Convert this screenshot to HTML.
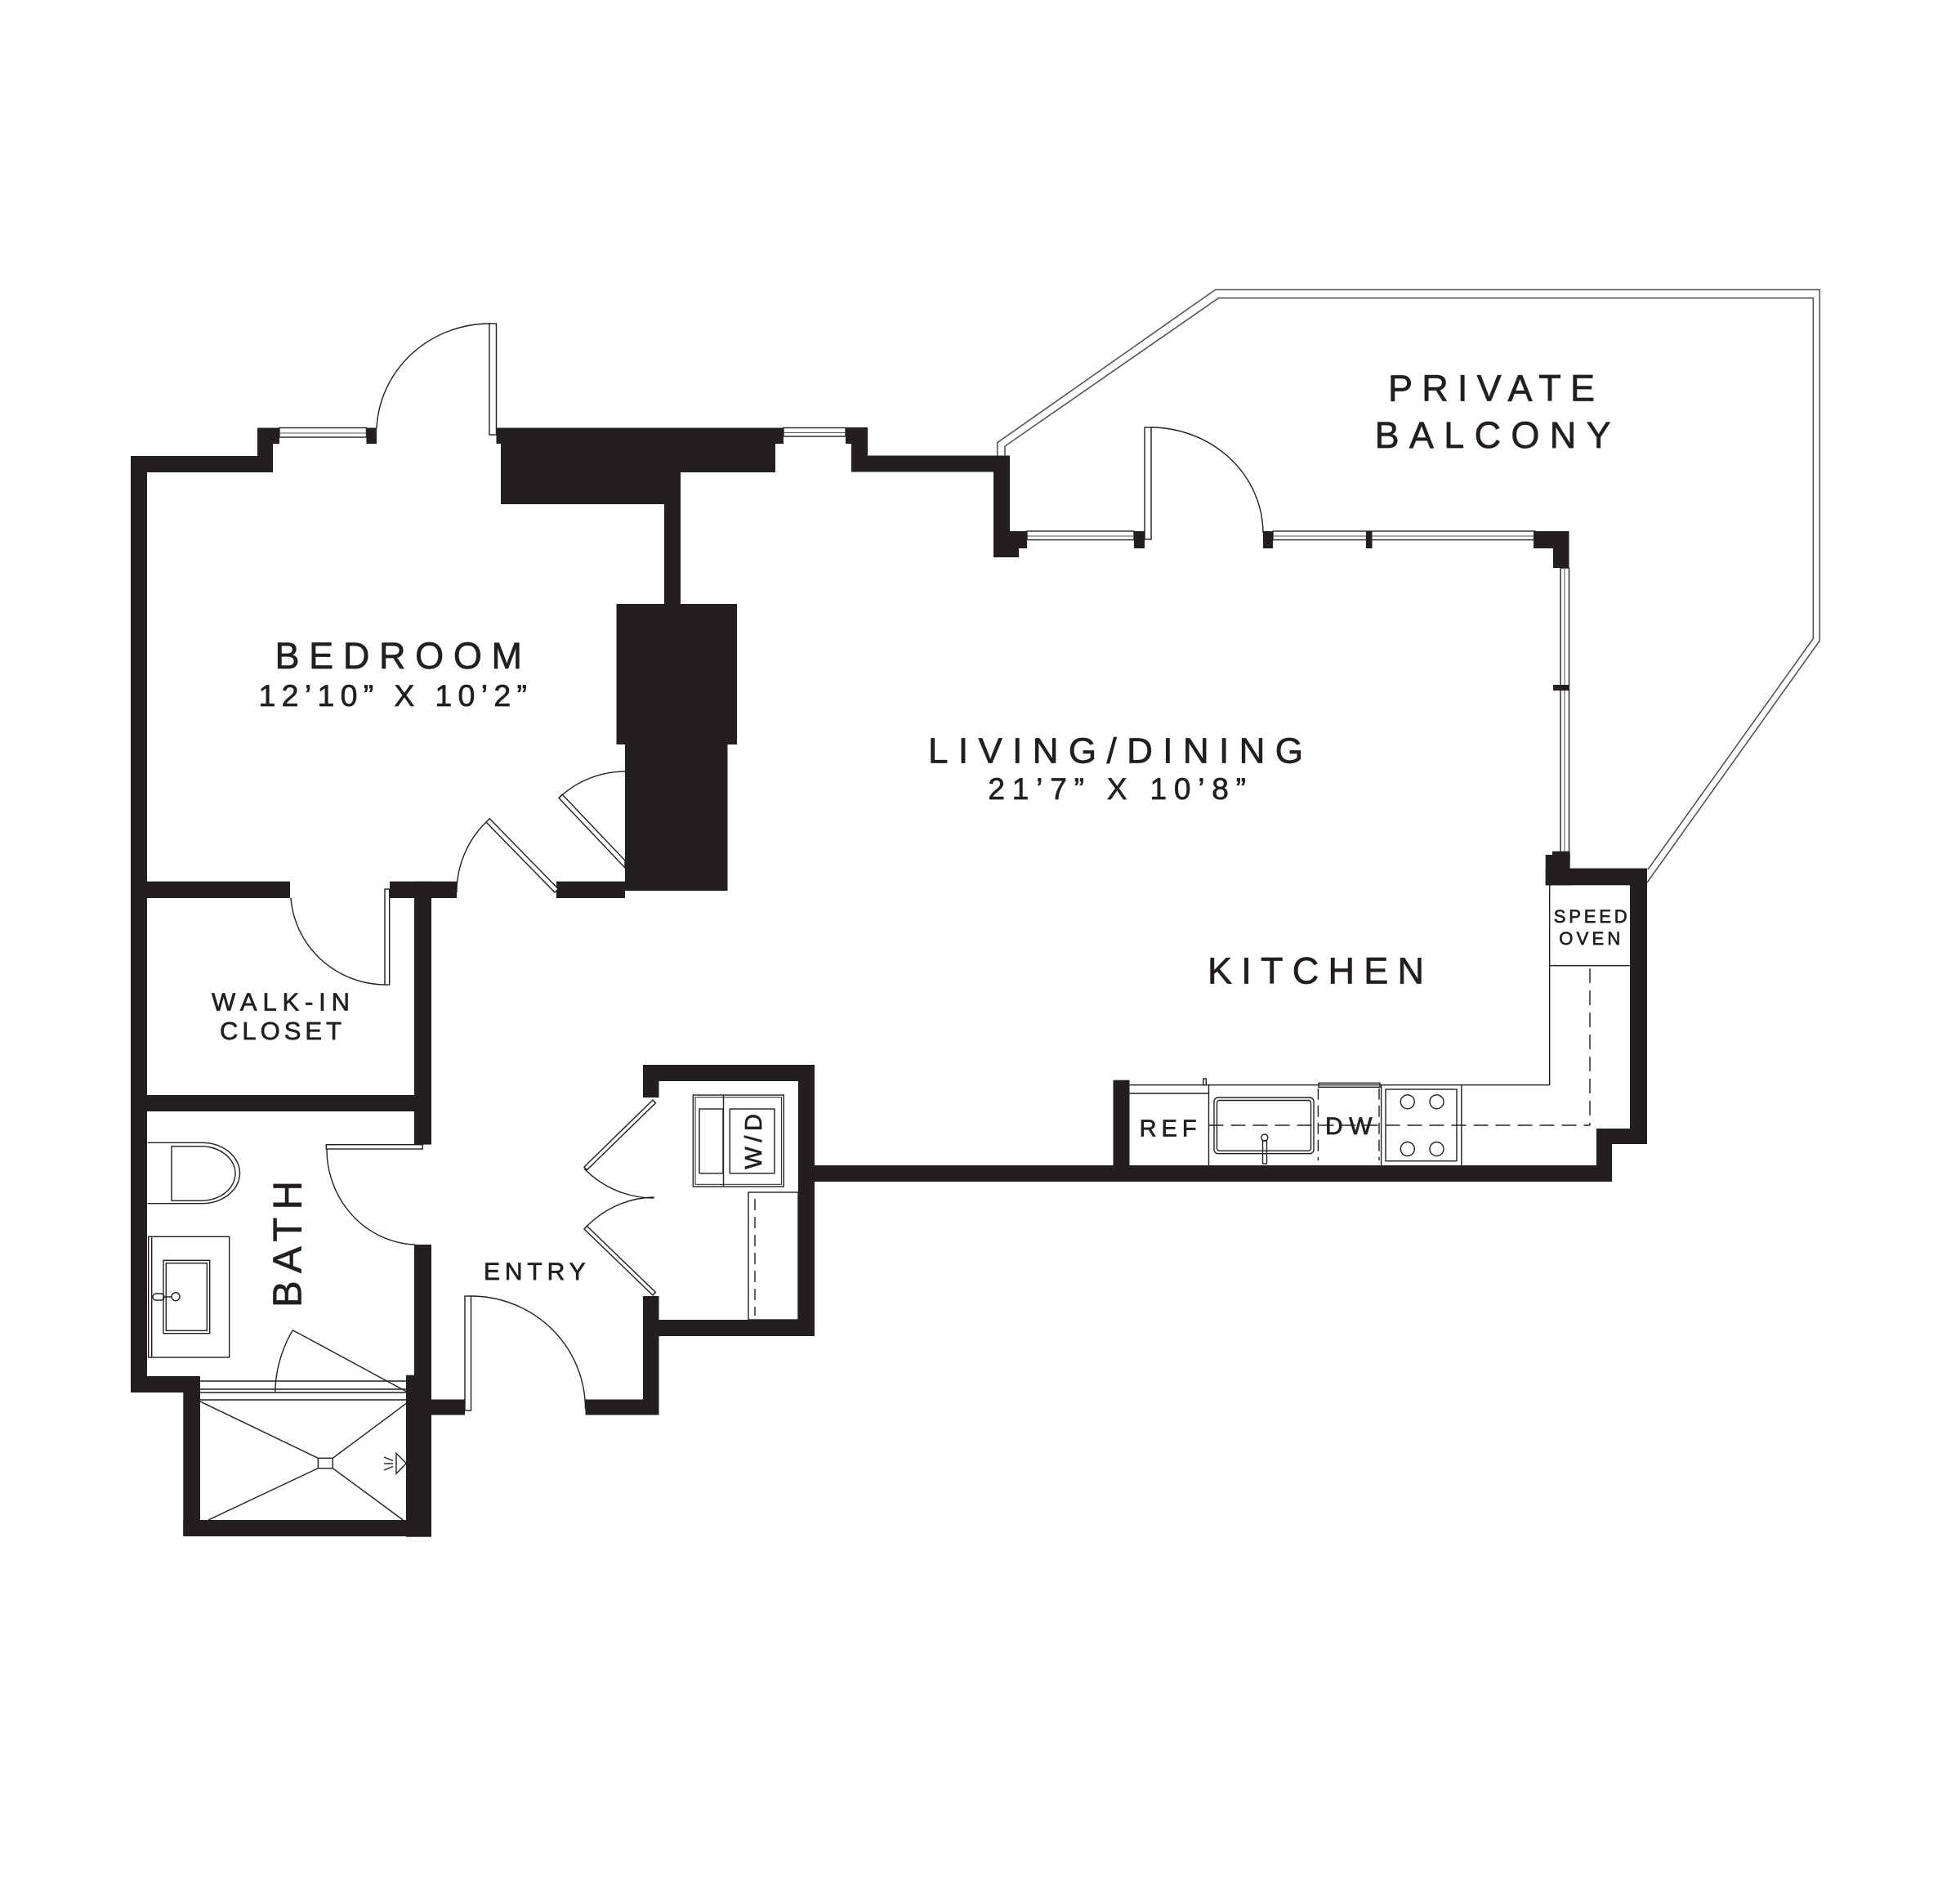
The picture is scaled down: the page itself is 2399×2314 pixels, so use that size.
<!DOCTYPE html>
<html>
<head>
<meta charset="utf-8">
<style>
  html,body{margin:0;padding:0;background:#fff;}
  svg{display:block;}
  text{font-family:"Liberation Sans", Arial, sans-serif; fill:#231f20; stroke:#231f20; stroke-width:0.7;}
</style>
</head>
<body>
<svg xmlns="http://www.w3.org/2000/svg" width="2399" height="2314" viewBox="0 0 2399 2314">
<rect x="0" y="0" width="2399" height="2314" fill="#fff"/>

<!-- Balcony railing (double line) -->
<g fill="none" stroke="#555" stroke-width="1.6">
  <path d="M1220.7,557.5 L1220.7,541.7 L1487.5,354.5 L2227.3,354.5 L2227.3,784 L2016,1080"/>
  <path d="M1230,557.5 L1230,546 L1491.5,364.7 L2219.3,364.7 L2219.3,781.5 L2017,1064"/>
</g>

<!-- Windows -->
<g fill="#fff" stroke="#333" stroke-width="1.5">
  <rect x="342" y="523.5" width="106.5" height="11.5"/>
  <rect x="959" y="523.5" width="76" height="10.5"/>
  <rect x="1257" y="650" width="131" height="10.6"/>
  <rect x="1558" y="650" width="321" height="10.6"/>
  <rect x="1910" y="695" width="10.5" height="349"/>
</g>
<g stroke="#555" stroke-width="1">
  <line x1="342" y1="530" x2="448.5" y2="530"/>
  <line x1="959" y1="529.5" x2="1035" y2="529.5"/>
  <line x1="1257" y1="656" x2="1388" y2="656"/>
  <line x1="1558" y1="656" x2="1879" y2="656"/>
  <line x1="1915" y1="695" x2="1915" y2="1044"/>
</g>

<!-- Walls -->
<g fill="#231f20">
  <rect x="160" y="558" width="20" height="1146"/>
  <rect x="160" y="558" width="174" height="20"/>
  <rect x="315" y="523.5" width="19" height="54.5"/>
  <rect x="315" y="523.5" width="27" height="19.5"/>
  <rect x="448.5" y="523.5" width="12.5" height="19.5"/>
  <polygon points="607.5,523.5 959,523.5 959,543 949,543 949,578 833,578 833,739 902,739 902,911 890.5,911 890.5,1090 765,1090 765,911 754.5,911 754.5,739 813,739 813,617 613,617 613,543 607.5,543"/>
  <rect x="1035" y="523" width="27" height="20"/>
  <rect x="1042" y="540" width="20" height="20"/>
  <rect x="1042" y="557.5" width="194" height="20"/>
  <rect x="1216" y="557.5" width="20" height="124"/>
  <rect x="1216" y="670" width="31" height="12"/>
  <rect x="1236" y="650" width="21" height="21"/>
  <rect x="1388" y="650" width="13" height="21"/>
  <rect x="1546" y="650" width="12" height="21"/>
  <rect x="1672" y="650" width="7.5" height="21"/>
  <rect x="1877" y="650" width="43.5" height="21"/>
  <rect x="1901" y="650" width="19.5" height="45"/>
  <rect x="1901" y="838" width="19.5" height="7"/>
  <rect x="1900" y="1041.7" width="21.7" height="10"/>
  <rect x="1891.7" y="1046" width="30" height="37.3"/>
  <rect x="1891.7" y="1062.5" width="124.3" height="20.8"/>
  <rect x="1995" y="1062.5" width="21" height="337.5"/>
  <rect x="1954" y="1381" width="62" height="19"/>
  <rect x="1954" y="1381" width="19" height="65"/>
  <rect x="997" y="1426" width="976" height="20"/>
  <rect x="1362.5" y="1321.7" width="20" height="105"/>
  <!-- laundry -->
  <rect x="787" y="1303" width="210" height="20"/>
  <rect x="787" y="1303" width="19.5" height="40"/>
  <rect x="977" y="1303" width="20" height="332"/>
  <rect x="787" y="1615" width="210" height="20"/>
  <rect x="787" y="1586" width="19.5" height="145.5"/>
  <rect x="716.5" y="1712.5" width="90" height="19"/>
  <rect x="528" y="1712.5" width="41" height="19"/>
  <!-- center -->
  <rect x="160" y="1078.6" width="195" height="20.4"/>
  <rect x="477" y="1078.6" width="82" height="20.4"/>
  <rect x="681" y="1078.6" width="84" height="20.4"/>
  <rect x="507" y="1078.6" width="21" height="322"/>
  <rect x="507" y="1523" width="21" height="160"/>
  <rect x="497" y="1682.7" width="31" height="198"/>
  <rect x="160" y="1340" width="368" height="20"/>
  <rect x="160" y="1684" width="85" height="20"/>
  <rect x="224.3" y="1684" width="20.7" height="196"/>
  <rect x="224.3" y="1860" width="303" height="20"/>
</g>

<!-- Door leaves -->
<g fill="#fff" stroke="#231f20" stroke-width="1.4">
  <rect x="599" y="396" width="8.5" height="136"/>
  <rect x="1401" y="523" width="8" height="137"/>
  <polygon points="679,1092 595,1006 599.3,1001.8 683.3,1087.8"/>
  <polygon points="765,1062 684,976.5 688.3,972.3 765,1053"/>
  <rect x="471" y="1088" width="5.7" height="117"/>
  <rect x="399.3" y="1400.7" width="118" height="5.3"/>
  <rect x="569" y="1586" width="7.5" height="140"/>
  <polygon points="799,1346 715,1428 718.5,1431.6 802.5,1349.6"/>
  <polygon points="799,1585 715,1504 718.5,1500.4 802.5,1581.4"/>
</g>

<!-- Door swings -->
<g fill="none" stroke="#231f20" stroke-width="1.4">
  <path d="M461,524 A139,134 0 0 1 600,396"/>
  <path d="M1409,523 A138,130 0 0 1 1546,652"/>
  <path d="M595,1006 A120,120 0 0 0 559,1092"/>
  <path d="M684,976.5 A118,118 0 0 1 765,944"/>
  <path d="M356,1099 A117,115 0 0 0 471,1205"/>
  <path d="M400,1406 A112,117 0 0 0 508,1523"/>
  <path d="M576.5,1586 A140,138 0 0 1 716.5,1724"/>
  <path d="M715,1430 A119,119 0 0 0 800.5,1466"/>
  <path d="M715,1504 A119,119 0 0 1 800.5,1465"/>
  <path d="M358.3,1627.7 A158,158 0 0 0 336.7,1704"/>
  <line x1="358.3" y1="1627.7" x2="497.3" y2="1702.7"/>
</g>

<!-- Bath fixtures -->
<g fill="none" stroke="#231f20" stroke-width="1.4">
  <path d="M180.7,1398.3 L247,1398.3 A46.6,37.2 0 0 1 247,1472.7 L180.7,1472.7"/>
  <path d="M210,1402.7 L246,1402.7 A42,33.3 0 0 1 246,1469.3 L210,1469.3 Z"/>
  <rect x="181.7" y="1513.3" width="99" height="147.7"/>
  <line x1="185.7" y1="1513.3" x2="185.7" y2="1661"/>
  <rect x="200" y="1542.3" width="56.7" height="89.4"/>
  <rect x="203.3" y="1545.7" width="50" height="82.6"/>
  <circle cx="215" cy="1586.7" r="5"/>
  <rect x="187" y="1583" width="14" height="8" rx="4"/>
  <line x1="201" y1="1587" x2="210" y2="1587"/>
  <line x1="245" y1="1690" x2="497.3" y2="1690"/>
  <line x1="245" y1="1700" x2="497.3" y2="1700"/>
  <line x1="245" y1="1704" x2="497.3" y2="1704"/>
  <line x1="245" y1="1713" x2="497.3" y2="1713"/>
  <line x1="245" y1="1715" x2="389.3" y2="1784.3"/>
  <line x1="497.3" y1="1717.3" x2="407.3" y2="1784.3"/>
  <line x1="255" y1="1860" x2="389.3" y2="1796.7"/>
  <line x1="493.3" y1="1860" x2="407.3" y2="1796.7"/>
  <rect x="389.3" y="1784.3" width="18" height="12.4"/>
  <polygon points="485,1778.3 485,1803.3 497.3,1790.7"/>
  <line x1="470" y1="1783" x2="481" y2="1787.5"/>
  <line x1="470" y1="1791" x2="481" y2="1791"/>
  <line x1="470" y1="1799" x2="481" y2="1794.5"/>
</g>

<!-- Laundry fixtures -->
<g fill="none" stroke="#231f20" stroke-width="1.4">
  <rect x="848.3" y="1340" width="111" height="112"/>
  <rect x="851" y="1342.7" width="105.6" height="106.6" stroke-width="1"/>
  <line x1="885.5" y1="1340" x2="885.5" y2="1452"/>
  <rect x="856" y="1357" width="29" height="78.7"/>
  <rect x="893.3" y="1357" width="54.7" height="78.7"/>
  <rect x="916" y="1459" width="61" height="156"/>
  <line x1="924" y1="1467" x2="924" y2="1610" stroke-dasharray="14,8"/>
</g>

<!-- Kitchen fixtures -->
<g fill="none" stroke="#231f20" stroke-width="1.4">
  <line x1="1896.7" y1="1083" x2="1896.7" y2="1327.7"/>
  <line x1="1382.6" y1="1327.7" x2="1897" y2="1327.7"/>
  <line x1="1896.7" y1="1181.7" x2="1995" y2="1181.7"/>
  <line x1="1946" y1="1185" x2="1946" y2="1377" stroke-dasharray="18,9"/>
  <line x1="1479.5" y1="1377" x2="1946" y2="1377" stroke-dasharray="18,9"/>
  <line x1="1382.6" y1="1338" x2="1479.5" y2="1338"/>
  <line x1="1479.5" y1="1327.7" x2="1479.5" y2="1426"/>
  <rect x="1472.8" y="1320" width="3.5" height="7.7"/>
  <rect x="1486" y="1343" width="122" height="68.7" rx="5"/>
  <rect x="1489.5" y="1346.5" width="115" height="61.7" rx="3"/>
  <circle cx="1547.8" cy="1392" r="4"/>
  <rect x="1545.5" y="1396" width="5" height="28"/>
  <line x1="1613.4" y1="1331.7" x2="1613.4" y2="1420" stroke-dasharray="14,7"/>
  <line x1="1688" y1="1331.7" x2="1688" y2="1420" stroke-dasharray="14,7"/>
  <rect x="1614" y="1325.3" width="75" height="5"/>
  <line x1="1690.6" y1="1327.7" x2="1690.6" y2="1426"/>
  <rect x="1696" y="1333" width="87" height="87.7"/>
  <circle cx="1722.8" cy="1348.3" r="8.5"/>
  <circle cx="1758.5" cy="1348.3" r="8.5"/>
  <circle cx="1722.8" cy="1406" r="8.5"/>
  <circle cx="1758.5" cy="1406" r="8.5"/>
  <line x1="1788.8" y1="1327.7" x2="1788.8" y2="1426"/>
</g>

<!-- Labels -->
<text x="1699" y="490.7" font-size="45" textLength="253" lengthAdjust="spacing">PRIVATE</text>
<text x="1682.6" y="548" font-size="45" textLength="289" lengthAdjust="spacing">BALCONY</text>
<text x="336.5" y="818" font-size="45" textLength="302.5" lengthAdjust="spacing">BEDROOM</text>
<text x="316.5" y="864" font-size="37.5" textLength="328.5" lengthAdjust="spacing">12’10” X 10’2”</text>
<text x="1136" y="933.6" font-size="44" textLength="459" lengthAdjust="spacing">LIVING/DINING</text>
<text x="1209.4" y="978" font-size="37" textLength="315.6" lengthAdjust="spacing">21’7” X 10’8”</text>
<text x="1478" y="1203.3" font-size="45" textLength="265" lengthAdjust="spacing">KITCHEN</text>
<text x="259" y="1236.6" font-size="31" textLength="169" lengthAdjust="spacing">WALK-IN</text>
<text x="269" y="1272" font-size="31" textLength="149" lengthAdjust="spacing">CLOSET</text>
<text transform="translate(368.3,1600) rotate(-90)" font-size="49" textLength="155" lengthAdjust="spacing">BATH</text>
<text x="592" y="1566" font-size="30" textLength="124.6" lengthAdjust="spacing">ENTRY</text>
<text x="1394.6" y="1390.7" font-size="29" textLength="70" lengthAdjust="spacing">REF</text>
<text x="1622" y="1388" font-size="30" textLength="57.5" lengthAdjust="spacing">DW</text>
<text x="1901.7" y="1129" font-size="22" textLength="90" lengthAdjust="spacing">SPEED</text>
<text x="1908.3" y="1156" font-size="22" textLength="75" lengthAdjust="spacing">OVEN</text>
<text transform="translate(932,1430.6) rotate(-90)" font-size="29" textLength="67.6" lengthAdjust="spacing">W/D</text>
</svg>
</body>
</html>
